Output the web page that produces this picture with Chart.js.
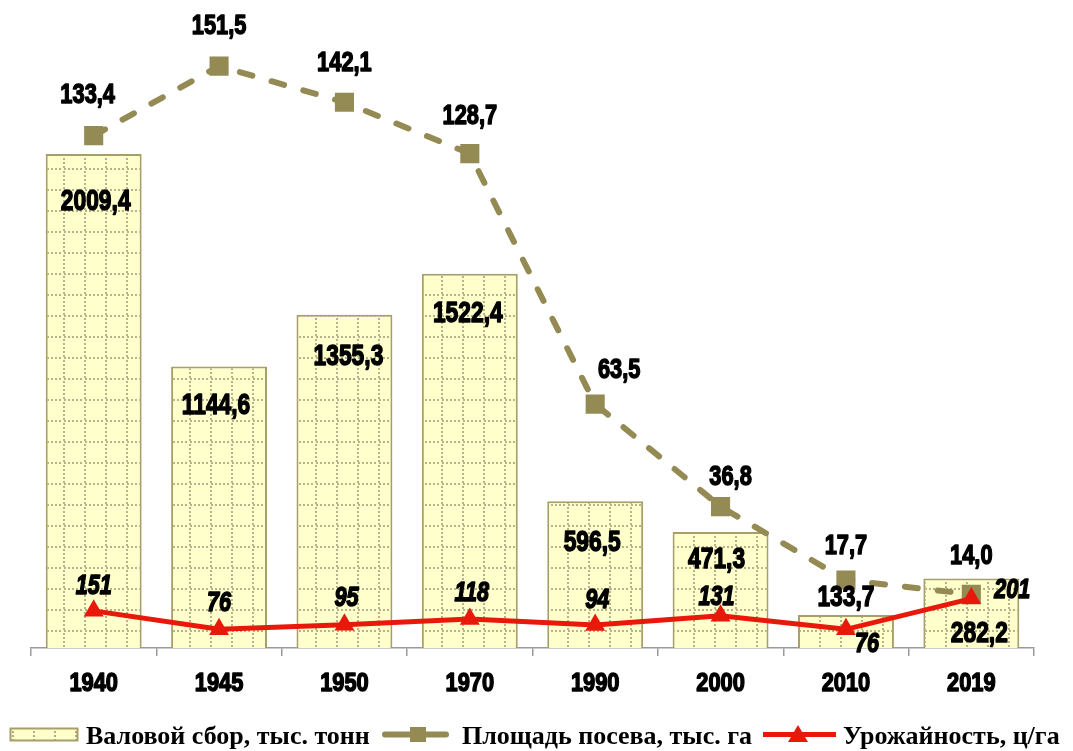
<!DOCTYPE html>
<html>
<head>
<meta charset="utf-8">
<script src="https://cdn.jsdelivr.net/npm/chart.js@4.4.1/dist/chart.umd.min.js"></script>
<style>
  html, body { margin: 0; padding: 0; background: #fff; }
  #wrap { position: relative; width: 1073px; height: 751px; overflow: hidden; }
  #chart { position: absolute; left: 0; top: 0; }
  .lg { position: absolute; top: 721px; height: 28px; line-height: 28px; white-space: nowrap;
        font: bold 26px 'Liberation Serif', 'Times New Roman', serif; color: #000; }
  .ic { position: absolute; top: 722px; }
</style>
</head>
<body>
<div id="wrap">
  <canvas id="chart" width="1073" height="751"></canvas>

  <svg class="ic" style="left:9px" width="72" height="24">
    <defs>
      <pattern id="lgDots" width="21" height="21" patternUnits="userSpaceOnUse" x="3" y="0">
        <rect width="21" height="21" fill="#FFFFCC"/>
        <rect x="0" y="1" width="2" height="2" fill="#B3AD82"/>
        <rect x="0" y="5" width="2" height="2" fill="#B3AD82"/>
        <rect x="0" y="9" width="2" height="2" fill="#B3AD82"/>
        <rect x="0" y="13" width="2" height="2" fill="#B3AD82"/>
        <rect x="0" y="17" width="2" height="2" fill="#B3AD82"/>
      </pattern>
    </defs>
    <rect x="1.5" y="6.5" width="67" height="12" fill="url(#lgDots)" stroke="#A89F68" stroke-width="2"/>
  </svg>
  <div class="lg" style="left:86px">Валовой сбор, тыс. тонн</div>

  <svg class="ic" style="left:382px" width="68" height="24">
    <line x1="3" y1="12.5" x2="64" y2="12.5" stroke="#948A54" stroke-width="6" stroke-linecap="round"/>
    <rect x="28" y="5" width="16" height="15" fill="#948A54"/>
  </svg>
  <div class="lg" style="left:462px">Площадь посева, тыс. га</div>

  <svg class="ic" style="left:761px" width="78" height="24">
    <line x1="2" y1="12.5" x2="75" y2="12.5" stroke="#E8190A" stroke-width="5"/>
    <polygon points="37,3 47,20 27,20" fill="#E8190A"/>
  </svg>
  <div class="lg" style="left:843px">Урожайность, ц/га</div>
</div>

<script>
// data
const years = ['1940', '1945', '1950', '1970', '1990', '2000', '2010', '2019'];
const harvest = [2009.4, 1144.6, 1355.3, 1522.4, 596.5, 471.3, 133.7, 282.2]; // тыс. тонн
const sownArea = [133.4, 151.5, 142.1, 128.7, 63.5, 36.8, 17.7, 14.0];       // тыс. га
const cropYield = [151, 76, 95, 118, 94, 131, 76, 201];                      // ц/га

// label nudges (px), as placed in the original
const barDx = [2, -3, 4, -2, -3, -4, 0, 8];
const barDy = [45, 37, 40, 38, 39, 25, -20, 53];
const areaDx = [-6, 0, 0, 0, 24, 10, 0, 0];
const areaDy = [-43, -42, -41, -40, -36, -32, -36, -40];
const yieldDx = [0, 0, 2, 2, 2, -4, 21, 41];
const yieldDy = [-27, -28, -28, -28, -27, -20, 13, -10];

const OLIVE = '#948A54';
const RED = '#E8190A';

function dottedPattern() {
  const t = document.createElement('canvas');
  t.width = 21; t.height = 21;
  const c = t.getContext('2d');
  c.fillStyle = '#FFFFCC';
  c.fillRect(0, 0, 21, 21);
  c.fillStyle = '#B8B28C';
  for (let k = 1; k < 21; k += 4) {
    c.fillRect(k, 0, 2, 2);
    c.fillRect(0, k + 2, 2, 2);
  }
  return c.createPattern(t, 'repeat');
}

const fmt1 = v => v.toFixed(1).replace('.', ',');

function drawLabel(ctx, txt, x, y, size, sx, italic) {
  ctx.save();
  ctx.translate(x, y + size * 0.358);
  ctx.scale(sx, 1);
  ctx.font = (italic ? 'italic ' : '') + 'bold ' + size + "px 'Liberation Sans', Arial, sans-serif";
  ctx.textAlign = 'center';
  ctx.textBaseline = 'alphabetic';
  ctx.fillStyle = '#000';
  ctx.strokeStyle = '#000';
  ctx.lineWidth = 1.5;
  ctx.lineJoin = 'round';
  ctx.fillText(txt, 0, 0);
  ctx.strokeText(txt, 0, 0);
  ctx.restore();
}

const labelPlugin = {
  id: 'valueLabels',
  afterDraw(chart) {
    const ctx = chart.ctx;
    chart.getDatasetMeta(0).data.forEach((bar, i) => {
      drawLabel(ctx, fmt1(harvest[i]), bar.x + barDx[i], bar.y + barDy[i], 30, 0.76);
    });
    chart.getDatasetMeta(1).data.forEach((pt, i) => {
      drawLabel(ctx, fmt1(sownArea[i]), pt.x + areaDx[i], pt.y + areaDy[i], 28, 0.78);
    });
    chart.getDatasetMeta(2).data.forEach((pt, i) => {
      drawLabel(ctx, String(cropYield[i]), pt.x + yieldDx[i], pt.y + yieldDy[i], 27, 0.8, true);
    });
    // category labels under the axis
    const xs = chart.scales.x;
    xs.ticks.forEach((t, i) => {
      drawLabel(ctx, xs.getLabelForValue(t.value), xs.getPixelForTick(i), 682, 26, 0.84);
    });
  }
};

new Chart(document.getElementById('chart'), {
  type: 'bar',
  data: {
    labels: years,
    datasets: [
      { type: 'bar', label: 'Валовой сбор, тыс. тонн', data: harvest, yAxisID: 'y',
        backgroundColor: dottedPattern(), borderColor: '#A89F68', borderWidth: 2,
        categoryPercentage: 1, barPercentage: 0.765, order: 3 },
      { type: 'line', label: 'Площадь посева, тыс. га', data: sownArea, yAxisID: 'y2',
        borderColor: OLIVE, borderWidth: 6, borderDash: [13, 20], borderCapStyle: 'round',
        pointStyle: 'rect', pointRadius: 13.5, pointBackgroundColor: OLIVE, pointBorderWidth: 0,
        tension: 0, order: 2 },
      { type: 'line', label: 'Урожайность, ц/га', data: cropYield, yAxisID: 'y',
        borderColor: RED, borderWidth: 5,
        pointStyle: 'triangle', pointRadius: 11.5, pointBackgroundColor: RED, pointBorderWidth: 0,
        tension: 0, order: 1 }
    ]
  },
  options: {
    responsive: false,
    animation: false,
    layout: { padding: { left: 31, right: 39, top: 20, bottom: 95 } },
    plugins: { legend: { display: false }, tooltip: { enabled: false } },
    scales: {
      x: {
        offset: true,
        grid: { display: true, offset: true, drawOnChartArea: false, drawTicks: true, tickLength: 8,
                color: '#9A9A9A', lineWidth: 1.5 },
        border: { display: true, color: '#9A9A9A', width: 1.5 },
        ticks: { display: false }
      },
      y: { display: false, min: 0, max: 2554 },
      y2: { display: false, min: 0, max: 163.5, position: 'right' }
    }
  },
  plugins: [labelPlugin]
});
</script>
</body>
</html>
